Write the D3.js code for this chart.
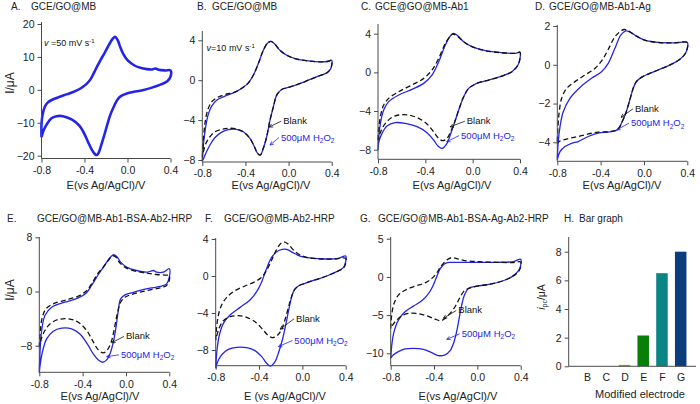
<!DOCTYPE html>
<html><head><meta charset="utf-8">
<script src="https://cdn.jsdelivr.net/npm/d3@7"></script>
<style>body{margin:0;background:#fff}svg{display:block;font-family:"Liberation Sans",Arial,sans-serif}</style>
</head><body><svg id="c" width="700" height="404"></svg>
<script>
// ---------- DATA (E in V, I in µA) ----------
const aCV = [[-0.80,-14.4],[-0.80,-10.5],[-0.79,-7.5],[-0.77,-5.2],[-0.74,-3.8],[-0.70,-3.0],[-0.64,-2.2],[-0.56,-1.3],[-0.48,-0.3],[-0.42,0.8],[-0.38,1.8],[-0.34,3.4],[-0.31,5.3],[-0.28,7.3],[-0.25,9.1],[-0.21,11.4],[-0.17,13.8],[-0.14,15.4],[-0.115,16.1],[-0.09,15.0],[-0.07,13.2],[-0.04,10.9],[0.0,9.0],[0.05,7.7],[0.10,6.9],[0.18,6.3],[0.23,6.2],[0.26,6.5],[0.29,6.1],[0.35,5.9],[0.40,5.9],
 [0.40,4.0],[0.37,2.6],[0.30,1.5],[0.22,0.6],[0.14,-0.1],[0.06,-0.6],[0.0,-1.0],[-0.05,-1.7],[-0.09,-2.8],[-0.12,-4.6],[-0.16,-7.6],[-0.19,-10.8],[-0.22,-14.2],[-0.25,-17.4],[-0.27,-19.2],[-0.285,-19.8],[-0.30,-19.6],[-0.33,-18.3],[-0.37,-15.6],[-0.41,-12.8],[-0.45,-10.8],[-0.52,-9.0],[-0.60,-8.0],[-0.66,-8.0],[-0.71,-8.7],[-0.75,-10.4],[-0.78,-12.3],[-0.80,-14.4]];

const bBlank = [[-0.80,-7.67],[-0.79,-6.0],[-0.775,-4.3],[-0.75,-3.0],[-0.713,-2.17],[-0.667,-1.77],[-0.59,-1.43],[-0.497,-1.2],[-0.42,-0.7],[-0.373,-0.27],[-0.327,0.5],[-0.28,1.67],[-0.234,3.0],[-0.194,3.73],[-0.163,3.9],[-0.126,3.6],[-0.08,3.0],[-0.017,2.5],[0.06,2.17],[0.183,1.93],[0.307,1.83],[0.369,1.9],[0.40,2.0],
 [0.40,1.5],[0.388,1.1],[0.354,0.73],[0.276,0.4],[0.183,0.0],[0.09,-0.4],[-0.002,-0.73],[-0.064,-0.93],[-0.11,-1.5],[-0.141,-2.67],[-0.172,-4.0],[-0.203,-5.67],[-0.234,-6.83],[-0.262,-7.5],[-0.287,-7.33],[-0.317,-6.67],[-0.358,-5.83],[-0.42,-5.17],[-0.497,-4.85],[-0.559,-4.83],[-0.62,-4.93],[-0.682,-5.17],[-0.729,-5.67],[-0.766,-6.33],[-0.79,-7.17],[-0.80,-7.67]];
const bH2O2 = [[-0.80,-8.1],[-0.788,-6.3],[-0.769,-4.7],[-0.744,-3.4],[-0.713,-2.6],[-0.667,-2.0],[-0.59,-1.6],[-0.497,-1.2],[-0.42,-0.7],[-0.373,-0.27],[-0.327,0.5],[-0.28,1.67],[-0.234,3.0],[-0.194,3.73],[-0.163,3.9],[-0.126,3.6],[-0.08,3.0],[-0.017,2.5],[0.06,2.17],[0.183,1.93],[0.307,1.83],[0.369,1.9],[0.40,2.0],
 [0.40,1.5],[0.388,1.1],[0.354,0.73],[0.276,0.4],[0.183,0.0],[0.09,-0.4],[-0.002,-0.73],[-0.064,-0.93],[-0.11,-1.5],[-0.141,-2.67],[-0.172,-4.0],[-0.203,-5.67],[-0.234,-6.83],[-0.262,-7.5],[-0.287,-7.33],[-0.317,-6.67],[-0.358,-5.83],[-0.42,-5.17],[-0.497,-4.9],[-0.559,-4.95],[-0.62,-5.2],[-0.682,-5.75],[-0.729,-6.5],[-0.766,-7.3],[-0.79,-7.9],[-0.80,-8.1]];

const cBlank = [[-0.80,-7.0],[-0.792,-5.62],[-0.777,-4.41],[-0.752,-3.38],[-0.71,-2.69],[-0.625,-2.0],[-0.513,-1.31],[-0.414,-0.62],[-0.344,0.24],[-0.287,1.45],[-0.231,3.0],[-0.189,3.76],[-0.169,3.97],[-0.132,3.76],[-0.076,3.17],[-0.006,2.66],[0.107,2.24],[0.248,2.03],[0.36,1.97],[0.40,2.07],
 [0.40,1.45],[0.383,0.76],[0.332,0.07],[0.248,-0.38],[0.135,-0.79],[0.051,-1.07],[0.008,-1.31],[-0.034,-1.66],[-0.076,-2.52],[-0.118,-3.9],[-0.146,-4.93],[-0.18,-5.97],[-0.217,-6.83],[-0.253,-7.07],[-0.287,-6.83],[-0.33,-6.14],[-0.386,-5.34],[-0.456,-4.76],[-0.541,-4.41],[-0.625,-4.41],[-0.682,-4.66],[-0.738,-5.28],[-0.777,-6.14],[-0.80,-7.0]];
const cH2O2 = [[-0.80,-8.03],[-0.792,-6.48],[-0.777,-5.1],[-0.752,-3.9],[-0.71,-3.03],[-0.625,-2.34],[-0.513,-1.76],[-0.414,-1.14],[-0.344,-0.28],[-0.287,1.1],[-0.231,2.83],[-0.189,3.76],[-0.161,4.03],[-0.124,3.76],[-0.076,3.17],[-0.006,2.66],[0.107,2.24],[0.248,2.03],[0.36,1.97],[0.40,2.07],
 [0.40,1.45],[0.383,0.76],[0.332,0.07],[0.248,-0.38],[0.135,-0.79],[0.051,-1.07],[0.008,-1.31],[-0.034,-1.66],[-0.076,-2.52],[-0.118,-3.9],[-0.146,-4.93],[-0.18,-6.14],[-0.217,-7.34],[-0.259,-7.86],[-0.293,-7.62],[-0.33,-7.0],[-0.386,-6.24],[-0.47,-5.62],[-0.569,-5.28],[-0.654,-5.2],[-0.724,-5.55],[-0.766,-6.31],[-0.792,-7.17],[-0.80,-8.03]];

const dBlank = [[-0.80,-3.96],[-0.794,-3.19],[-0.782,-2.42],[-0.76,-1.73],[-0.714,-1.22],[-0.637,-0.87],[-0.545,-0.53],[-0.453,-0.19],[-0.386,0.24],[-0.33,0.79],[-0.269,1.44],[-0.223,1.7],[-0.183,1.82],[-0.146,1.75],[-0.085,1.53],[0.007,1.27],[0.13,1.15],[0.283,1.13],[0.40,1.15],
 [0.40,0.84],[0.382,0.58],[0.329,0.27],[0.237,-0.02],[0.13,-0.27],[0.038,-0.48],[-0.024,-0.65],[-0.07,-0.87],[-0.10,-1.22],[-0.131,-1.82],[-0.168,-2.5],[-0.208,-3.02],[-0.238,-3.33],[-0.275,-3.41],[-0.33,-3.45],[-0.423,-3.48],[-0.514,-3.57],[-0.607,-3.7],[-0.683,-3.79],[-0.745,-3.88],[-0.782,-3.96],[-0.80,-4.05]];
const dH2O2 = [[-0.80,-4.9],[-0.791,-3.96],[-0.775,-3.19],[-0.745,-2.42],[-0.683,-1.73],[-0.591,-1.17],[-0.484,-0.7],[-0.392,-0.36],[-0.33,0.07],[-0.269,0.84],[-0.214,1.53],[-0.168,1.75],[-0.131,1.7],[-0.07,1.48],[0.007,1.27],[0.13,1.15],[0.283,1.13],[0.40,1.15],
 [0.40,0.84],[0.382,0.58],[0.329,0.27],[0.237,-0.02],[0.13,-0.27],[0.038,-0.48],[-0.024,-0.65],[-0.07,-0.87],[-0.10,-1.22],[-0.131,-1.82],[-0.168,-2.5],[-0.208,-3.02],[-0.238,-3.33],[-0.269,-3.41],[-0.33,-3.47],[-0.423,-3.53],[-0.514,-3.7],[-0.607,-3.96],[-0.668,-4.05],[-0.729,-4.22],[-0.775,-4.48],[-0.80,-4.9]];

const eBlank = [[-0.80,-8.2],[-0.791,-5.76],[-0.772,-3.79],[-0.738,-2.56],[-0.671,-1.82],[-0.548,-1.23],[-0.44,-0.69],[-0.369,0.05],[-0.317,1.13],[-0.262,2.61],[-0.209,3.6],[-0.163,4.58],[-0.123,5.27],[-0.092,5.07],[-0.055,4.19],[0.006,3.45],[0.098,2.96],[0.191,2.71],[0.283,2.51],[0.375,2.41],[0.40,2.36],
 [0.40,1.63],[0.375,0.89],[0.314,0.54],[0.222,0.25],[0.129,-0.1],[0.052,-0.44],[-0.009,-0.84],[-0.049,-1.58],[-0.08,-3.3],[-0.108,-5.52],[-0.132,-7.24],[-0.172,-8.62],[-0.209,-9.06],[-0.255,-8.62],[-0.308,-7.24],[-0.363,-5.76],[-0.44,-4.53],[-0.532,-4.04],[-0.625,-4.14],[-0.702,-4.78],[-0.748,-5.76],[-0.782,-7.0],[-0.80,-8.2]];
const eH2O2 = [[-0.80,-12.0],[-0.791,-8.2],[-0.778,-5.76],[-0.748,-3.55],[-0.686,-2.32],[-0.563,-1.58],[-0.44,-0.94],[-0.369,-0.25],[-0.317,0.89],[-0.255,2.51],[-0.194,3.94],[-0.148,4.98],[-0.117,5.42],[-0.086,5.17],[-0.049,4.33],[0.006,3.6],[0.098,3.1],[0.191,2.86],[0.228,3.0],[0.252,3.1],[0.283,2.86],[0.345,2.86],[0.40,3.35],
 [0.40,2.12],[0.375,1.13],[0.314,0.74],[0.222,0.49],[0.129,0.15],[0.052,-0.2],[-0.009,-0.49],[-0.049,-1.08],[-0.071,-2.81],[-0.092,-5.27],[-0.117,-7.49],[-0.148,-9.21],[-0.185,-10.2],[-0.215,-10.44],[-0.255,-10.1],[-0.302,-9.21],[-0.357,-7.73],[-0.425,-6.26],[-0.502,-5.52],[-0.594,-5.42],[-0.671,-5.86],[-0.732,-7.0],[-0.772,-8.97],[-0.791,-10.69],[-0.80,-12.0]];

const fBlank = [[-0.80,-6.92],[-0.791,-5.48],[-0.775,-4.22],[-0.745,-3.14],[-0.698,-2.31],[-0.622,-1.59],[-0.529,-1.08],[-0.437,-0.61],[-0.375,-0.14],[-0.329,0.65],[-0.283,1.73],[-0.237,2.88],[-0.197,3.53],[-0.169,3.68],[-0.129,3.42],[-0.083,2.81],[-0.022,2.27],[0.055,1.98],[0.178,1.84],[0.302,1.84],[0.40,1.91],
 [0.40,1.37],[0.378,0.83],[0.317,0.47],[0.225,0.0],[0.117,-0.43],[0.025,-0.79],[-0.037,-1.08],[-0.074,-1.51],[-0.105,-2.41],[-0.135,-3.68],[-0.166,-4.94],[-0.197,-5.91],[-0.237,-6.49],[-0.277,-6.67],[-0.32,-6.38],[-0.375,-5.66],[-0.437,-4.94],[-0.514,-4.47],[-0.591,-4.29],[-0.668,-4.4],[-0.729,-4.83],[-0.769,-5.66],[-0.80,-6.92]];
const fH2O2 = [[-0.80,-9.98],[-0.788,-8.0],[-0.766,-6.38],[-0.729,-5.12],[-0.668,-4.22],[-0.575,-3.39],[-0.483,-2.59],[-0.422,-1.69],[-0.375,-0.61],[-0.335,0.65],[-0.289,1.91],[-0.237,2.63],[-0.185,2.88],[-0.145,2.88],[-0.092,2.56],[-0.022,2.16],[0.071,1.95],[0.209,1.84],[0.332,1.91],[0.40,2.16],
 [0.40,1.55],[0.378,0.9],[0.317,0.47],[0.225,0.0],[0.117,-0.43],[0.025,-0.79],[-0.037,-1.08],[-0.074,-1.51],[-0.098,-2.23],[-0.123,-3.5],[-0.154,-5.3],[-0.185,-6.92],[-0.222,-8.36],[-0.258,-9.37],[-0.295,-9.73],[-0.329,-9.44],[-0.375,-8.72],[-0.437,-8.07],[-0.514,-7.75],[-0.606,-7.71],[-0.683,-7.93],[-0.738,-8.43],[-0.775,-9.08],[-0.80,-9.98]];

const gBlank = [[-0.80,-6.74],[-0.791,-5.0],[-0.769,-3.48],[-0.729,-2.39],[-0.668,-1.74],[-0.575,-1.22],[-0.483,-0.78],[-0.422,-0.22],[-0.375,0.52],[-0.329,1.52],[-0.277,2.26],[-0.237,2.52],[-0.191,2.39],[-0.129,2.17],[-0.006,2.0],[0.178,1.91],[0.332,1.87],[0.40,1.96],
 [0.40,1.3],[0.378,0.65],[0.317,0.0],[0.225,-0.57],[0.117,-0.96],[-0.006,-1.22],[-0.083,-1.52],[-0.129,-1.96],[-0.166,-2.83],[-0.206,-3.91],[-0.252,-4.78],[-0.298,-5.43],[-0.338,-5.74],[-0.391,-5.52],[-0.468,-5.09],[-0.56,-4.78],[-0.637,-4.78],[-0.698,-5.09],[-0.751,-5.74],[-0.782,-6.3],[-0.80,-6.74]];
const gH2O2 = [[-0.80,-10.65],[-0.788,-8.7],[-0.769,-7.17],[-0.729,-5.65],[-0.668,-4.57],[-0.591,-3.83],[-0.514,-3.13],[-0.462,-2.39],[-0.422,-1.52],[-0.382,-0.22],[-0.35,0.9],[-0.32,1.5],[-0.29,1.8],[-0.25,1.9],[-0.191,1.91],[-0.006,1.91],[0.178,1.91],[0.332,2.0],[0.40,2.3],
 [0.40,1.52],[0.378,0.78],[0.317,0.0],[0.225,-0.57],[0.117,-0.96],[-0.006,-1.22],[-0.083,-1.52],[-0.12,-2.39],[-0.154,-4.35],[-0.185,-6.74],[-0.215,-8.48],[-0.252,-9.65],[-0.298,-10.2],[-0.36,-10.3],[-0.422,-9.91],[-0.498,-9.48],[-0.591,-9.35],[-0.668,-9.43],[-0.729,-9.78],[-0.775,-10.2],[-0.80,-10.65]];

const xTicks = [-0.8,-0.4,0,0.4];
const barCategories = ["B","C","D","E","F","G"];
const barValues = [0,0,0.1,2.15,6.5,8.0];
const barTicks = [0,2,4,6,8];

// ---------- STYLE / LAYOUT ----------
const BLUE = "#2424e8", BLACK = "#111", AXIS = "#4a4a4a";
const barColors = ["#999900","#999900","#a3a300","#087f08","#0a8484","#0b3d7d"];
const svg = d3.select("#c");
const line = (x,y)=>d3.line().x(d=>x(d[0])).y(d=>y(d[1])).curve(d3.curveCatmullRom.alpha(0.5));
const fmtY = d3.format("d");

const panels = [
 {L:"A.",T:"GCE/GO@MB",lx:11,tx:31,ty:10,xr:[41.5,170.5],yd:[-20,20],yr:[155.7,24],ay:158.5,yt:22,yTicks:[-20,-10,0,10,20],xl:106,xly:189,
  curves:[{d:aCV,c:BLUE,w:2.6}],rate:{t:"=50 mV s",E:-0.777,I:13.2,sp:" "}},
 {L:"B.",T:"GCE/GO@MB",lx:197,tx:212,ty:10,xr:[202.3,331.7],yd:[-8,4],yr:[160,40.3],ay:162,yt:31,yTicks:[-8,-4,0,4],xl:271,xly:189,
  curves:[{d:bH2O2,c:BLUE,w:1.3},{d:bBlank,c:BLACK,w:1.3,dash:"5,3"}],rate:{t:"=10 mV s",E:-0.76,I:2.92,sp:""},
  ann:{bt:[-0.05,-4.4],btip:[-0.18,-4.7],ht:[-0.07,-6.05],htip:[-0.172,-6.5]}},
 {L:"C.",T:"GCE@GO@MB-Ab1",lx:361,tx:375,ty:10,xr:[378,520],yd:[-8,4],yr:[149.7,33.7],ay:159.3,yt:24,yTicks:[-8,-4,0,4],xl:452,xly:189,
  curves:[{d:cH2O2,c:BLUE,w:1.3},{d:cBlank,c:BLACK,w:1.3,dash:"5,3"}],
  ann:{bt:[-0.05,-5.37],btip:[-0.191,-5.63],ht:[-0.098,-6.85],htip:[-0.22,-7.18]}},
 {L:"D.",T:"GCE/GO@MB-Ab1-Ag",lx:535,tx:549,ty:10,xr:[557.3,687.3],yd:[-4,2],yr:[142.3,26],ay:161.3,yt:25,yTicks:[-4,-2,0,2],xl:622,xly:189,
  curves:[{d:dH2O2,c:BLUE,w:1.3},{d:dBlank,c:BLACK,w:1.3,dash:"5,3"}],
  ann:{bt:[-0.083,-2.43],btip:[-0.212,-2.71],ht:[-0.12,-3.17],htip:[-0.252,-3.36]}},
 {L:"E.",T:"GCE/GO@MB-Ab1-BSA-Ab2-HRP",lx:7,tx:37,ty:222,xr:[39.3,169.3],yd:[-8,8],yr:[345.7,237.3],ay:372.3,yt:237,yTicks:[-8,0,8],xl:100,xly:400,
  curves:[{d:eH2O2,c:BLUE,w:1.3},{d:eBlank,c:BLACK,w:1.3,dash:"5,3"}],
  ann:{bt:[0.0,-7.08],btip:[-0.131,-7.56],ht:[-0.046,-9.79],htip:[-0.178,-9.62]}},
 {L:"F.",T:"GCE/GO@MB-Ab2-HRP",lx:205,tx:224,ty:222,xr:[215.7,345.7],yd:[-8,4],yr:[350,239],ay:365.7,yt:238,yTicks:[-8,-4,0,4],xl:285,xly:400,xlabel:"E (vs Ag/AgCl)/V",
  curves:[{d:fH2O2,c:BLUE,w:1.3},{d:fBlank,c:BLACK,w:1.3,dash:"5,3"}],
  ann:{bt:[-0.058,-4.95],btip:[-0.206,-5.76],ht:[-0.074,-7.3],htip:[-0.222,-7.64]}},
 {L:"G.",T:"GCE/GO@MB-Ab1-BSA-Ag-Ab2-HRP",lx:360,tx:378,ty:222,xr:[390.7,520.7],yd:[-10,5],yr:[353.3,238.7],ay:365.7,yt:237,yTicks:[-10,-5,0,5],xl:458,xly:400,
  curves:[{d:gH2O2,c:BLUE,w:1.3},{d:gBlank,c:BLACK,w:1.3,dash:"5,3"}],
  ann:{bt:[-0.176,-4.79],btip:[-0.314,-5.42],ht:[-0.144,-7.84],htip:[-0.283,-8.17]}}
];

const fmtX = d=> d===0 ? "0.0" : d.toFixed(1);

panels.forEach(p=>{
  const x = d3.scaleLinear().domain([-0.8,0.4]).range(p.xr);
  const y = d3.scaleLinear().domain(p.yd).range(p.yr);
  const g = svg.append("g");
  g.append("text").attr("x",p.lx).attr("y",p.ty).attr("font-size",10).attr("fill","#222").text(p.L);
  g.append("text").attr("x",p.tx).attr("y",p.ty).attr("font-size",10).attr("fill","#222").text(p.T);
  p.curves.forEach(c=>{
    g.append("path").attr("d",line(x,y)(c.d)).attr("fill","none").attr("stroke",c.c)
     .attr("stroke-width",c.w).attr("stroke-dasharray",c.dash||null).attr("stroke-linejoin","round");
  });
  const xa = g.append("g").attr("transform",`translate(0,${p.ay})`)
    .call(d3.axisBottom(x).tickValues(xTicks).tickFormat(fmtX).tickSize(4).tickPadding(4));
  const ya = g.append("g").attr("transform",`translate(${p.xr[0]},0)`)
    .call(d3.axisLeft(y).tickValues(p.yTicks).tickFormat(fmtY).tickSize(4).tickPadding(3));
  [xa,ya].forEach(a=>{a.select(".domain").remove();a.selectAll("text").attr("font-size",10.5).attr("fill","#222").attr("font-family",null);
    a.selectAll("line").attr("stroke",AXIS);});
  g.append("line").attr("x1",p.xr[0]).attr("x2",p.xr[1]).attr("y1",p.ay).attr("y2",p.ay).attr("stroke",AXIS);
  g.append("line").attr("x1",p.xr[0]).attr("x2",p.xr[0]).attr("y1",p.ay).attr("y2",p.yt).attr("stroke",AXIS);
  g.append("text").attr("x",p.xl).attr("y",p.xly).attr("text-anchor","middle").attr("font-size",11).attr("fill","#222")
    .text(p.xlabel||"E(vs Ag/AgCl)/V");
  if(p.rate){
    const t = g.append("text").attr("x",x(p.rate.E)).attr("y",y(p.rate.I)).attr("font-size",9).attr("fill","#111");
    t.append("tspan").attr("font-style","italic").text("v");
    t.append("tspan").text(p.rate.sp+p.rate.t);
    t.append("tspan").attr("font-size",6).attr("dy",-3.5).text("-1");
  }
  if(p.ann){
    const arrow=(tx,ty,col,tip)=>{
      const x1=tx-2,y1=ty-3,x2=x(tip[0]),y2=y(tip[1]);
      g.append("line").attr("x1",x1).attr("y1",y1).attr("x2",x2).attr("y2",y2).attr("stroke",col).attr("stroke-width",0.8);
      const ang=Math.atan2(y1-y2,x1-x2), L=4, s=0.45;
      g.append("path").attr("d",`M${x2+L*Math.cos(ang+s)},${y2+L*Math.sin(ang+s)}L${x2},${y2}L${x2+L*Math.cos(ang-s)},${y2+L*Math.sin(ang-s)}`)
       .attr("fill","none").attr("stroke",col).attr("stroke-width",0.8);
    };
    const bx=x(p.ann.bt[0]),by=y(p.ann.bt[1]);
    g.append("text").attr("x",bx).attr("y",by).attr("font-size",9.5).attr("fill","#111").text("Blank");
    arrow(bx,by,"#111",p.ann.btip);
    const hx=x(p.ann.ht[0]),hy=y(p.ann.ht[1]);
    const t=g.append("text").attr("x",hx).attr("y",hy).attr("font-size",9.5).attr("fill",BLUE);
    t.append("tspan").text("500μM H");
    t.append("tspan").attr("font-size",6.5).attr("dy",2.5).text("2");
    t.append("tspan").attr("dy",-2.5).text("O");
    t.append("tspan").attr("font-size",6.5).attr("dy",2.5).text("2");
    arrow(hx,hy,BLUE,p.ann.htip);
  }
});

[[10,83],[9.5,290]].forEach(([cx,cy])=>{
  svg.append("text").attr("transform",`translate(${cx},${cy}) rotate(-90)`).attr("text-anchor","middle")
   .attr("dominant-baseline","central").attr("font-size",12).attr("fill","#222").text("I/μA");
});

// ---------- H bar graph ----------
{
  const g = svg.append("g");
  g.append("text").attr("x",564).attr("y",222).attr("font-size",10).attr("fill","#222").text("H.");
  g.append("text").attr("x",579).attr("y",222).attr("font-size",10).attr("fill","#222").text("Bar graph");
  const x = d3.scalePoint().domain(barCategories).range([587,680.7]);
  const y = d3.scaleLinear().domain([0,8]).range([366.3,251.7]);
  const bw = 11.5;
  g.selectAll("rect").data(barCategories).join("rect")
    .attr("x",d=>x(d)-bw/2).attr("width",bw)
    .attr("y",(d,i)=>y(barValues[i])).attr("height",(d,i)=>y(0)-y(barValues[i]))
    .attr("fill",(d,i)=>barColors[i]);
  const ya = g.append("g").attr("transform","translate(568.7,0)").call(d3.axisLeft(y).tickValues(barTicks).tickFormat(fmtY).tickSize(4).tickPadding(3));
  ya.select(".domain").remove();
  ya.selectAll("text").attr("font-size",10.5).attr("fill","#222").attr("font-family",null);
  ya.selectAll("line").attr("stroke",AXIS);
  g.append("line").attr("x1",568.7).attr("x2",568.7).attr("y1",366.3).attr("y2",237).attr("stroke",AXIS);
  g.append("line").attr("x1",568.7).attr("x2",696).attr("y1",366.3).attr("y2",366.3).attr("stroke",AXIS);
  const xa = g.append("g").attr("transform","translate(0,366.3)").call(d3.axisBottom(x).tickSize(0).tickPadding(7));
  xa.select(".domain").remove();
  xa.selectAll("text").attr("font-size",10.5).attr("fill","#222").attr("font-family",null);
  g.append("text").attr("x",640).attr("y",398).attr("text-anchor","middle").attr("font-size",11).attr("fill","#222").text("Modified electrode");
  const yl = g.append("text").attr("transform","translate(541,297) rotate(-90)").attr("text-anchor","middle")
    .attr("dominant-baseline","central").attr("font-size",10.5).attr("fill","#222");
  yl.append("tspan").attr("font-style","italic").text("i");
  yl.append("tspan").attr("font-size",7).attr("dy",2.5).text("pc");
  yl.append("tspan").attr("dy",-2.5).text("/μA");
}
</script></body></html>
